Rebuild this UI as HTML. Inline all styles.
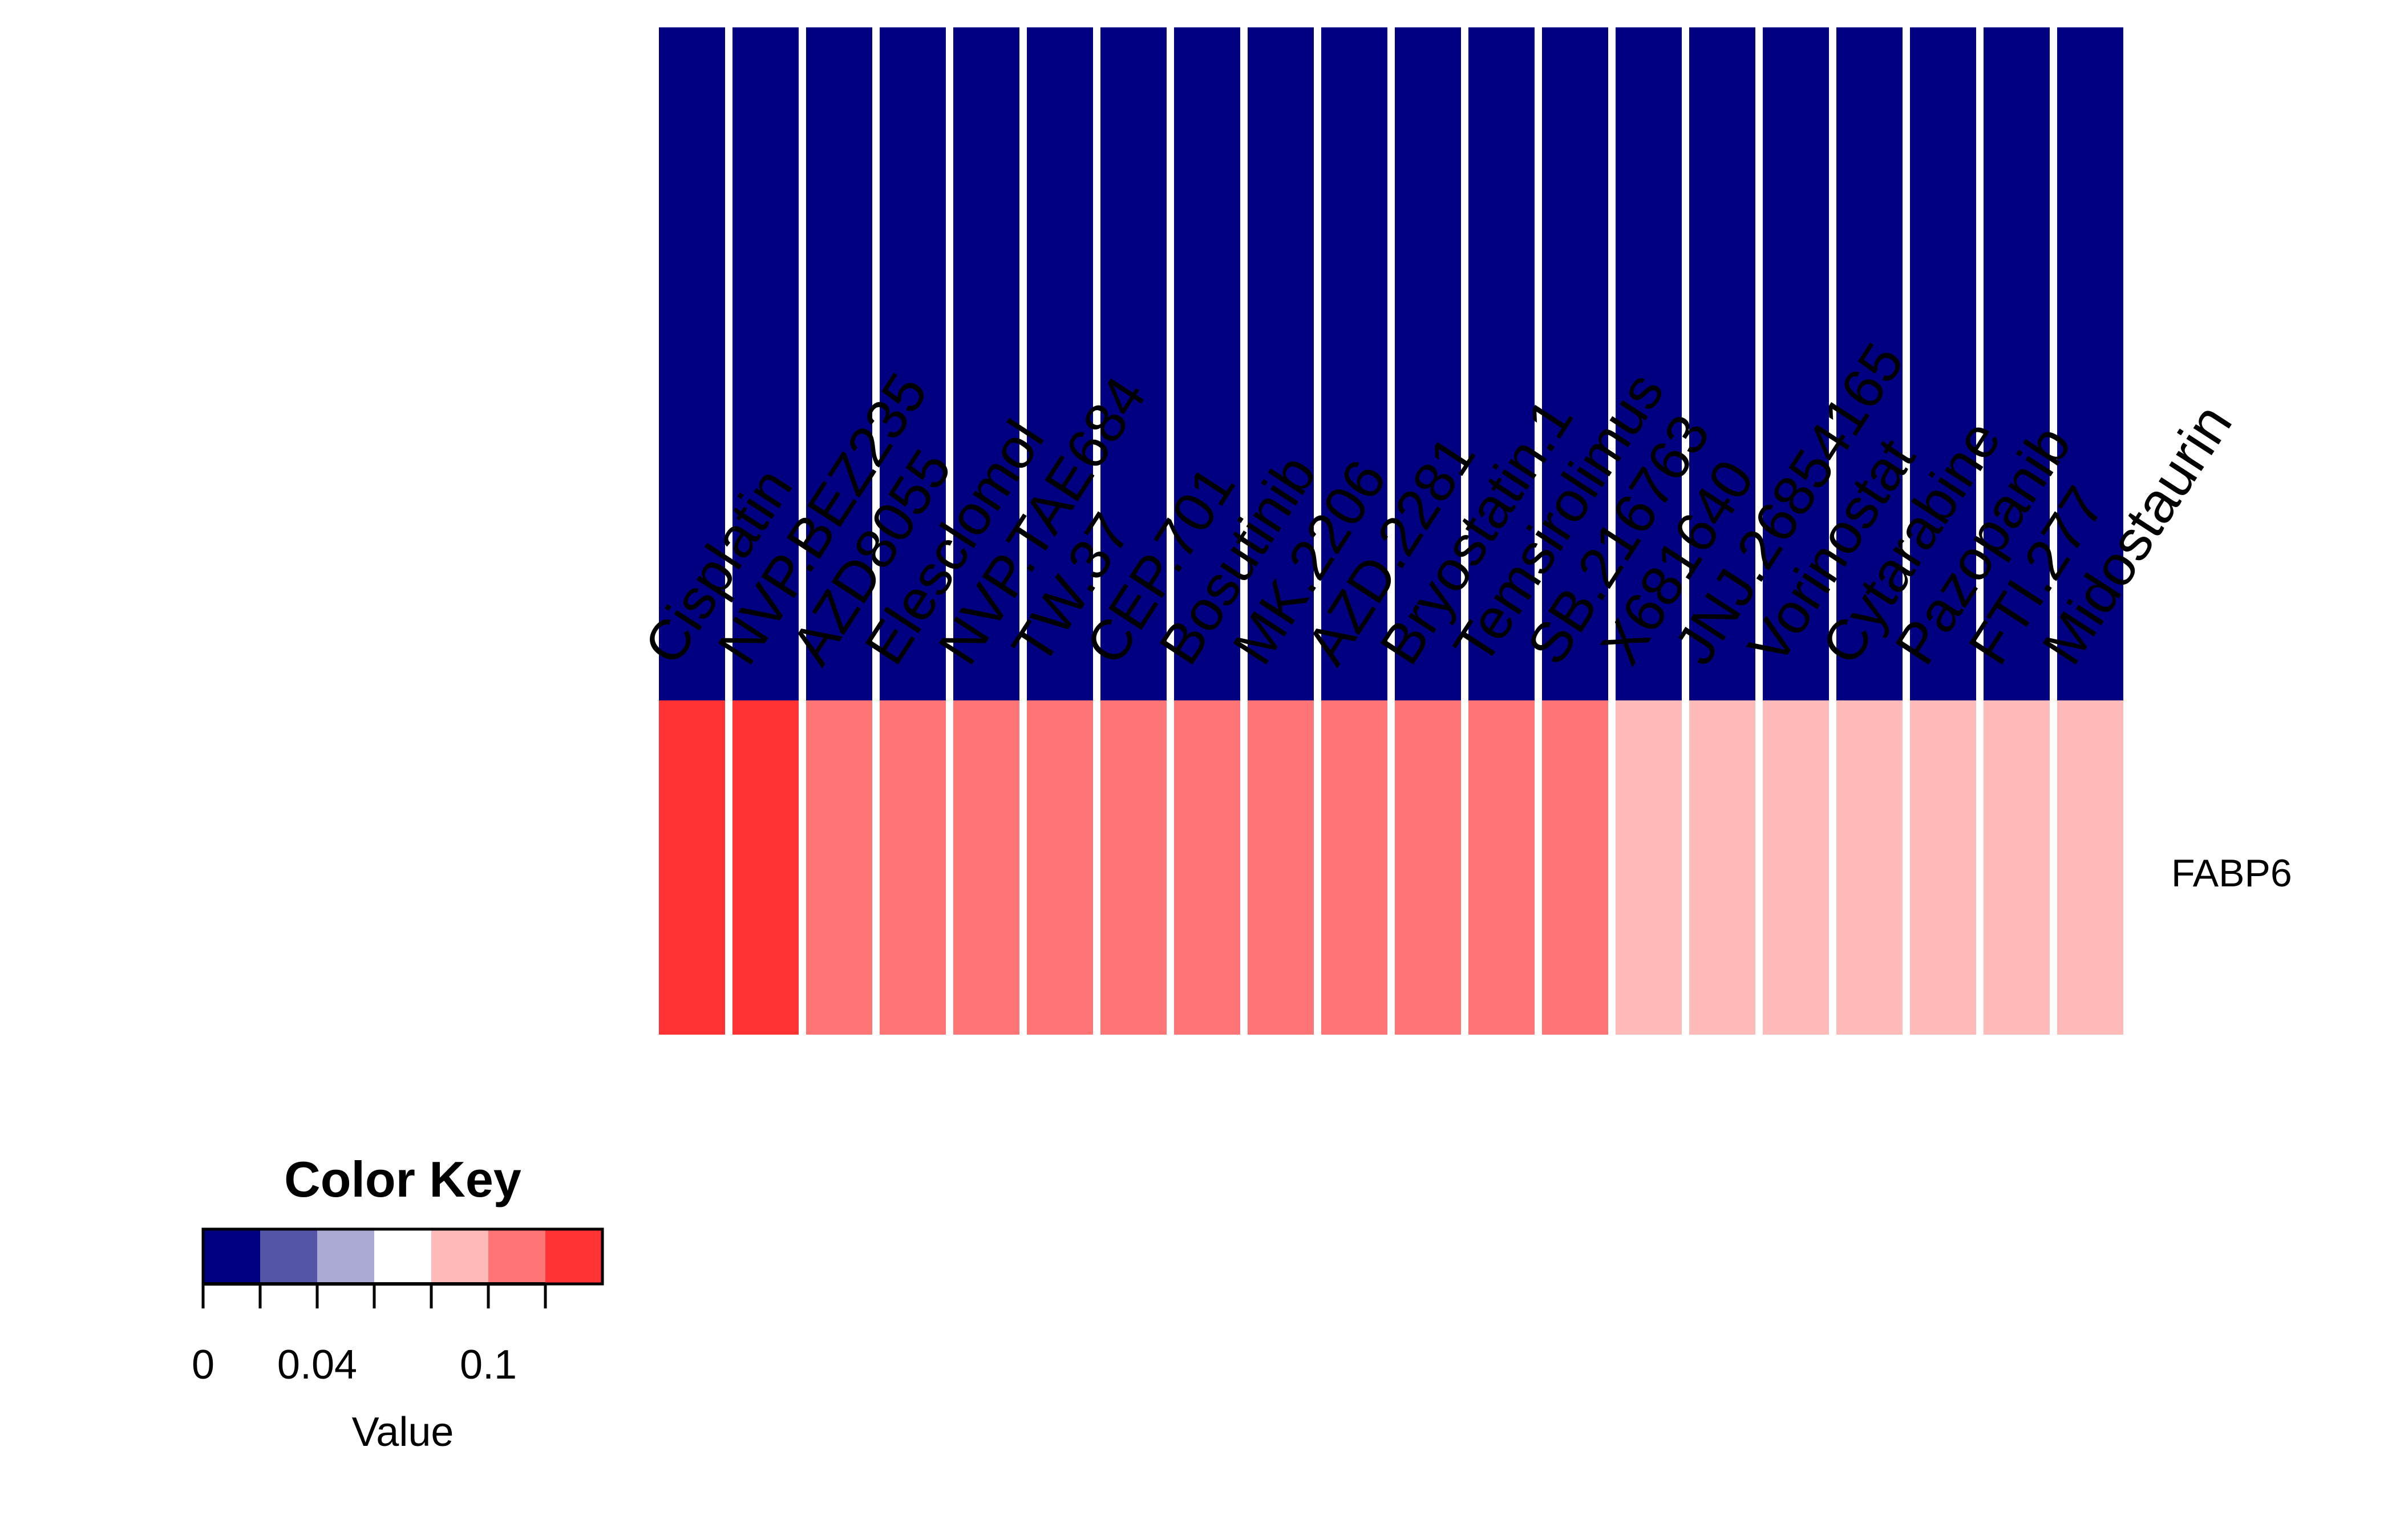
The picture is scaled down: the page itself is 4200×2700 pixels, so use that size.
<!DOCTYPE html>
<html><head><meta charset="utf-8"><style>html,body{margin:0;padding:0;background:#fff}svg{display:block}text{font-family:"Liberation Sans",Arial,sans-serif}</style></head>
<body>
<svg id="chart" width="4200" height="2700" viewBox="0 0 4200 2700" xmlns="http://www.w3.org/2000/svg">
<rect width="4200" height="2700" fill="#fff"/>
<g id="cells"></g>
<g id="collabels"></g>
<g id="rowlabels"></g>
<g id="key"></g>
</svg>
<script>
const drugs = ["Cisplatin","NVP.BEZ235","AZD8055","Elesclomol","NVP.TAE684","TW.37","CEP.701","Bosutinib","MK.2206","AZD.2281","Bryostatin.1","Temsirolimus","SB.216763","X681640","JNJ.26854165","Vorinostat","Cytarabine","Pazopanib","FTI.277","Midostaurin"];
const genes = ["", "FABP6"];
const row1Values = [0,0,0,0,0,0,0,0,0,0,0,0,0,0,0,0,0,0,0,0];
const row2Values = [0.13,0.13,0.11,0.11,0.11,0.11,0.11,0.11,0.11,0.11,0.11,0.11,0.11,0.09,0.09,0.09,0.09,0.09,0.09,0.09];
const breaks = [0,0.02,0.04,0.06,0.08,0.10,0.12,0.14];
const binColors = ["#000080","#5555A8","#AAAAD4","#FFFFFF","#FFBABA","#FF7575","#FF3333"];
const tickLabels = ["0","0.04","0.1"];
const tickLabelValues = [0,0.04,0.10];

const NS="http://www.w3.org/2000/svg";
function mk(tag,attrs,parent){const e=document.createElementNS(NS,tag);for(const k in attrs)e.setAttribute(k,attrs[k]);parent.appendChild(e);return e;}
function colorFor(v){for(let i=0;i<binColors.length;i++){if(v<breaks[i+1]||i===binColors.length-1)return binColors[i];}return binColors[binColors.length-1];}

const hmL=1155, hmR=3722, gap=13;
const rowEdges=[48,1228,1814];
const pitch=(hmR-hmL+gap)/drugs.length;
const cw=pitch-gap;
function xCol(i){return hmL+i*pitch;}
const rows=[row1Values,row2Values];
const cells=document.getElementById('cells');
rows.forEach((vals,r)=>{
  vals.forEach((v,i)=>{
    const c=mk('rect',{x:xCol(i),y:rowEdges[r],width:cw,height:rowEdges[r+1]-rowEdges[r],fill:colorFor(v)},cells);
    
    
  });
});
const cl=document.getElementById('collabels');
drugs.forEach((d,i)=>{
  const x=xCol(i)+28, y=1172;
  const t=mk('text',{x:x,y:y,'font-size':100,transform:`rotate(-57 ${x} ${y})`,fill:'#000'},cl);
  t.textContent=d;
  
  
});
const rl=document.getElementById('rowlabels');
const g=mk('text',{x:3806,y:1554,'font-size':68,fill:'#000'},rl);
g.textContent="FABP6";



// color key
const key=document.getElementById('key');
const kL=356,kR=1056,kT=2155,kB=2251;
const vmin=breaks[0], vmax=breaks[breaks.length-1];
function kx(v){return kL+(v-vmin)/(vmax-vmin)*(kR-kL);}
const title=mk('text',{x:(kL+kR)/2,y:2098,'font-size':88,'font-weight':'bold','text-anchor':'middle'},key);
title.textContent="Color Key";


binColors.forEach((c,i)=>{
  const r=mk('rect',{x:kx(breaks[i]),y:kT,width:kx(breaks[i+1])-kx(breaks[i])+0.5,height:kB-kT,fill:c},key);
  
  
});
const bx=mk('rect',{x:kL,y:kT,width:kR-kL,height:kB-kT,fill:'none',stroke:'#000','stroke-width':5},key);


const axl=mk('line',{x1:kL,y1:kB,x2:kx(breaks[breaks.length-2]),y2:kB,stroke:'#000','stroke-width':6},key);


breaks.slice(0,-1).forEach(b=>{
  const tk=mk('line',{x1:kx(b),y1:kB,x2:kx(b),y2:2294,stroke:'#000','stroke-width':5},key);
  
  
});
tickLabels.forEach((s,i)=>{
  const t=mk('text',{x:kx(tickLabelValues[i]),y:2417,'font-size':72,'text-anchor':'middle'},key);
  t.textContent=s;
  
  
});
const vl=mk('text',{x:(kL+kR)/2,y:2535,'font-size':72,'text-anchor':'middle'},key);
vl.textContent="Value";


</script>
</body></html>
